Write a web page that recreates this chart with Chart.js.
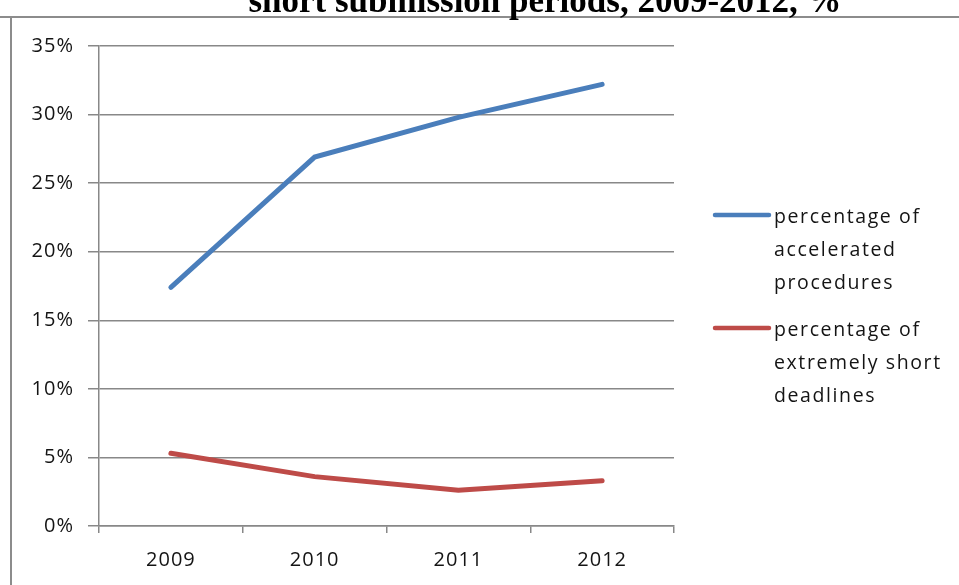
<!DOCTYPE html>
<html>
<head>
<meta charset="utf-8">
<style>
  html, body { margin: 0; padding: 0; background: #fff; }
  #wrap { width: 959px; height: 585px; position: relative; }
</style>
<script src="https://cdn.jsdelivr.net/npm/chart.js@4.4.1/dist/chart.umd.min.js"></script>
</head>
<body>
<div id="wrap"><canvas id="c" width="959" height="585"></canvas></div>
<script>
const titleText = "short submission periods, 2009-2012, %";
const categories = ["2009", "2010", "2011", "2012"];
const acceleratedValues = [17.4, 26.9, 29.8, 32.2];
const extremelyShortValues = [5.3, 3.6, 2.6, 3.3];
const seriesLabels = [
  ["percentage of", "accelerated", "procedures"],
  ["percentage of", "extremely short", "deadlines"]
];
const yTicks = [0, 5, 10, 15, 20, 25, 30, 35];

const BLUE = "#4a7ebb";
const RED = "#be4b48";
const GRID = "#888888";
const TEXT = "#141414";

const decor = {
  id: "decor",
  beforeDraw(chart) {
    const ctx = chart.ctx;
    ctx.save();
    ctx.strokeStyle = "#8c8c8c";
    ctx.lineWidth = 2;
    ctx.beginPath();
    ctx.moveTo(0, 17);
    ctx.lineTo(959, 17);
    ctx.moveTo(11, 17);
    ctx.lineTo(11, 585);
    ctx.stroke();
    ctx.fillStyle = "#000";
    ctx.font = "bold 35px 'Liberation Serif'";
    ctx.textAlign = "center";
    ctx.textBaseline = "alphabetic";
    ctx.fillText(titleText, 545, 12);
    ctx.restore();
    ctx.letterSpacing = "1px";
  },
  afterDraw(chart) {
    const ctx = chart.ctx;
    ctx.letterSpacing = "0px";
    ctx.save();
    ctx.letterSpacing = "1.6px";
    ctx.font = "500 19.5px 'Open Sans'";
    ctx.fillStyle = TEXT;
    ctx.textAlign = "left";
    ctx.textBaseline = "middle";
    const starts = [217, 330];
    chart.data.datasets.forEach((ds, i) => {
      const lines = seriesLabels[i];
      const y0 = starts[i];
      ctx.strokeStyle = ds.borderColor;
      ctx.lineWidth = 4.5;
      ctx.lineCap = "round";
      ctx.beginPath();
      ctx.moveTo(715, y0 - 2);
      ctx.lineTo(769, y0 - 2);
      ctx.stroke();
      lines.forEach((t, j) => {
        ctx.fillText(t, 774, y0 + j * 33);
      });
    });
    ctx.restore();
  }
};

new Chart(document.getElementById("c"), {
  type: "line",
  data: {
    labels: categories,
    datasets: [
      {
        label: seriesLabels[0].join(" "),
        data: acceleratedValues,
        borderColor: BLUE,
        backgroundColor: BLUE,
        borderWidth: 5,
        borderCapStyle: "round",
        pointRadius: 0,
        tension: 0
      },
      {
        label: seriesLabels[1].join(" "),
        data: extremelyShortValues,
        borderColor: RED,
        backgroundColor: RED,
        borderWidth: 5,
        borderCapStyle: "round",
        pointRadius: 0,
        tension: 0
      }
    ]
  },
  options: {
    responsive: false,
    animation: false,
    devicePixelRatio: 1,
    layout: { padding: { top: 46, right: 285, bottom: 0, left: 0 } },
    plugins: {
      legend: { display: false },
      title: { display: false },
      tooltip: { enabled: false }
    },
    scales: {
      x: {
        offset: true,
        grid: {
          offset: true,
          drawOnChartArea: false,
          drawTicks: true,
          tickLength: 7,
          color: GRID,
          lineWidth: 1.5
        },
        border: { display: true, color: GRID, width: 1.5 },
        ticks: {
          color: TEXT,
          font: { family: "'Open Sans'", size: 20, weight: 500 },
          padding: 15,
          maxRotation: 0
        },
        afterFit(scale) { scale.height = 59; }
      },
      y: {
        min: 0,
        max: 35,
        afterBuildTicks(scale) {
          scale.ticks = yTicks.map(v => ({ value: v }));
        },
        grid: {
          drawOnChartArea: true,
          drawTicks: true,
          tickLength: 11,
          color: GRID,
          lineWidth: 1.5
        },
        border: { display: true, color: GRID, width: 1.5 },
        ticks: {
          color: TEXT,
          font: { family: "'Open Sans'", size: 20, weight: 500 },
          padding: 14,
          callback: v => v + "%"
        },
        afterFit(scale) { scale.width = 99; }
      }
    }
  },
  plugins: [decor]
});
</script>
</body>
</html>
